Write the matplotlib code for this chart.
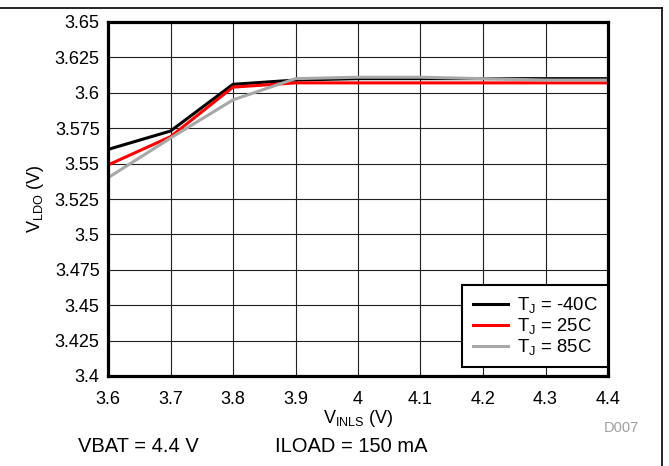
import matplotlib.pyplot as plt
from matplotlib.lines import Line2D

plt.rcParams['font.family'] = ['Liberation Sans', 'DejaVu Sans']

vin = [3.6, 3.7, 3.8, 3.9, 4.0, 4.1, 4.2, 4.3, 4.4]
v_m40 = [3.560, 3.573, 3.606, 3.609, 3.610, 3.610, 3.610, 3.610, 3.610]
v_25 = [3.549, 3.569, 3.604, 3.607, 3.607, 3.607, 3.607, 3.607, 3.607]
v_85 = [3.540, 3.568, 3.595, 3.610, 3.611, 3.611, 3.610, 3.609, 3.609]

yticks = [3.4, 3.425, 3.45, 3.475, 3.5, 3.525, 3.55, 3.575, 3.6, 3.625, 3.65]
ylabels = ["3.4", "3.425", "3.45", "3.475", "3.5", "3.525", "3.55", "3.575", "3.6", "3.625", "3.65"]
xlabels = ["3.6", "3.7", "3.8", "3.9", "4", "4.1", "4.2", "4.3", "4.4"]

fig = plt.figure(figsize=(6.69, 4.66), dpi=100)
ax = fig.add_axes([108 / 669, 1 - 376 / 466, 500 / 669, 354 / 466])

ax.plot(vin, v_m40, color="black", lw=2.2, label="T$_\\mathregular{J}$ = -40C")
ax.plot(vin, v_25, color="#ff0000", lw=2.2, label="T$_\\mathregular{J}$ = 25C")
ax.plot(vin, v_85, color="#a8a8a8", lw=2.2, label="T$_\\mathregular{J}$ = 85C")

ax.set_xlim(3.6, 4.4)
ax.set_ylim(3.4, 3.65)
ax.set_xticks(vin)
ax.set_xticklabels(xlabels)
ax.set_yticks(yticks)
ax.set_yticklabels(ylabels)
ax.tick_params(length=0, labelsize=13)
ax.tick_params(axis="y", pad=6)
ax.tick_params(axis="x", pad=11)
ax.grid(True, color="#202020", lw=0.8)
for s in ax.spines.values():
    s.set_linewidth(2.3)

ax.set_xlabel("V$_\\mathregular{INLS}$ (V)", fontsize=13, labelpad=0)
ax.set_ylabel("V$_\\mathregular{LDO}$ (V)", fontsize=13, labelpad=6)

leg = ax.legend(loc="lower right", bbox_to_anchor=(1.0, 0.025), fontsize=13.3,
                frameon=True, fancybox=False, edgecolor="black", framealpha=1,
                borderaxespad=0, handlelength=1.9, handletextpad=0.5,
                labelspacing=0.05, borderpad=0.55)
leg.get_frame().set_linewidth(1.5)

fig.text(621 / 669, 1 - 428 / 466, "D007", color="#a0a0a0", fontsize=10.5, ha="center", va="center")
fig.text(78 / 669, 1 - 446 / 466, "VBAT = 4.4 V", fontsize=14.5, va="center")
fig.text(275 / 669, 1 - 446 / 466, "ILOAD = 150 mA", fontsize=14.5, va="center")

# frame lines around figure
fig.add_artist(Line2D([0, 661.5 / 669], [1 - 7.5 / 466, 1 - 7.5 / 466], color="black", lw=1.2, transform=fig.transFigure))
fig.add_artist(Line2D([661.5 / 669, 661.5 / 669], [1 - 7.5 / 466, 0], color="black", lw=1.2, transform=fig.transFigure))

fig.savefig("out.png", dpi=100)
